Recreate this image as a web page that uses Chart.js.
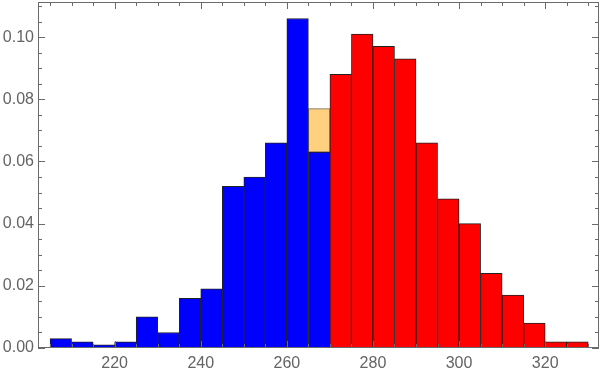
<!DOCTYPE html>
<html>
<head>
<meta charset="utf-8">
<script src="https://cdn.jsdelivr.net/npm/chart.js@4"></script>
<style>
  html, body { margin: 0; padding: 0; background: #fff; }
</style>
</head>
<body>
<canvas id="hist" width="600" height="372"></canvas>
<script>
// bin width 5, bins given by their left edge
const binWidth = 5;
const blueBins   = [205, 210, 215, 220, 225, 230, 235, 240, 245, 250, 255, 260, 265];
const blueValues = [0.003, 0.002, 0.001, 0.002, 0.010, 0.005, 0.016, 0.019, 0.052, 0.055, 0.066, 0.106, 0.063];
const redBins    = [270, 275, 280, 285, 290, 295, 300, 305, 310, 315, 320, 325];
const redValues  = [0.088, 0.101, 0.097, 0.093, 0.066, 0.048, 0.040, 0.024, 0.017, 0.008, 0.002, 0.002];
// light orange piece sitting on top of the 265 bin
const orangeBins   = [265];
const orangeRanges = [[0.063, 0.077]];

const xTickLabels = [220, 240, 260, 280, 300, 320];
const yTickLabels = [0, 0.02, 0.04, 0.06, 0.08, 0.10];

const labelColor = '#646464';
const frameColor = '#6a6a6a';

function toPoints(bins, values) {
  return bins.map((b, i) => ({ x: b + binWidth / 2, y: values[i] }));
}

// frame round the plot and Mathematica style inward ticks
const frameTicks = {
  id: 'frameTicks',
  afterDatasetsDraw(chart) {
    const { ctx, chartArea: a, scales: { x, y } } = chart;
    ctx.save();
    ctx.strokeStyle = frameColor;
    ctx.lineWidth = 1;
    ctx.beginPath();
    // x ticks every 5, long ones on multiples of 20
    for (let v = 205; v <= 330; v += 5) {
      const px = Math.round(x.getPixelForValue(v)) + 0.5;
      const len = v % 20 === 0 ? 7 : 4;
      ctx.moveTo(px, a.bottom); ctx.lineTo(px, a.bottom - len);
      ctx.moveTo(px, a.top); ctx.lineTo(px, a.top + len);
    }
    // y ticks every 0.005, long ones every 0.02
    for (let i = 0; i <= 22; i++) {
      const py = Math.round(y.getPixelForValue(i * 0.005)) + 0.5;
      const len = i % 4 === 0 ? 7 : 4;
      ctx.moveTo(a.left, py); ctx.lineTo(a.left + len, py);
      ctx.moveTo(a.right, py); ctx.lineTo(a.right - len, py);
    }
    ctx.stroke();
    ctx.strokeRect(Math.round(a.left) + 0.5, Math.round(a.top) + 0.5,
                   Math.round(a.width) - 1, Math.round(a.height) - 1);
    ctx.restore();
  }
};

const barStyle = {
  barPercentage: 1,
  categoryPercentage: 1,
  grouped: false,
  borderWidth: 1,
  borderSkipped: false
};

const tickFont = { family: 'Liberation Sans, Arial, sans-serif', size: 16 };

new Chart(document.getElementById('hist'), {
  type: 'bar',
  data: {
    datasets: [
      Object.assign({
        label: 'low',
        data: toPoints(blueBins, blueValues),
        backgroundColor: '#0000ff',
        borderColor: '#222222'
      }, barStyle),
      Object.assign({
        label: 'high',
        data: toPoints(redBins, redValues),
        backgroundColor: '#ff0000',
        borderColor: '#222222'
      }, barStyle),
      Object.assign({
        label: 'extra',
        data: toPoints(orangeBins, orangeRanges),
        backgroundColor: '#ffd080',
        borderColor: '#7d6a4e'
      }, barStyle)
    ]
  },
  options: {
    responsive: false,
    animation: false,
    devicePixelRatio: 1,
    layout: { padding: { top: 2, right: 1, left: 0, bottom: 0 } },
    plugins: { legend: { display: false }, tooltip: { enabled: false } },
    scales: {
      x: {
        type: 'linear',
        offset: false,
        min: 202.2,
        max: 332.5,
        grid: { display: false, drawTicks: false, offset: false },
        border: { display: false },
        afterBuildTicks: s => { s.ticks = xTickLabels.map(v => ({ value: v })); },
        afterFit: s => {
          s.height = 24;
          s.paddingLeft = 0; s.paddingRight = 0;
        },
        ticks: {
          padding: 6,
          color: labelColor,
          font: tickFont,
          maxRotation: 0,
          autoSkip: false
        }
      },
      y: {
        min: 0,
        max: 0.1113,
        grid: { display: false, drawTicks: false },
        border: { display: false },
        afterBuildTicks: s => { s.ticks = yTickLabels.map(v => ({ value: v })); },
        afterFit: s => {
          s.width = 38;
          s.paddingTop = 0; s.paddingBottom = 0;
        },
        ticks: {
          padding: 4,
          color: labelColor,
          font: tickFont,
          callback: v => v.toFixed(2)
        }
      }
    }
  },
  plugins: [frameTicks]
});
</script>
</body>
</html>
